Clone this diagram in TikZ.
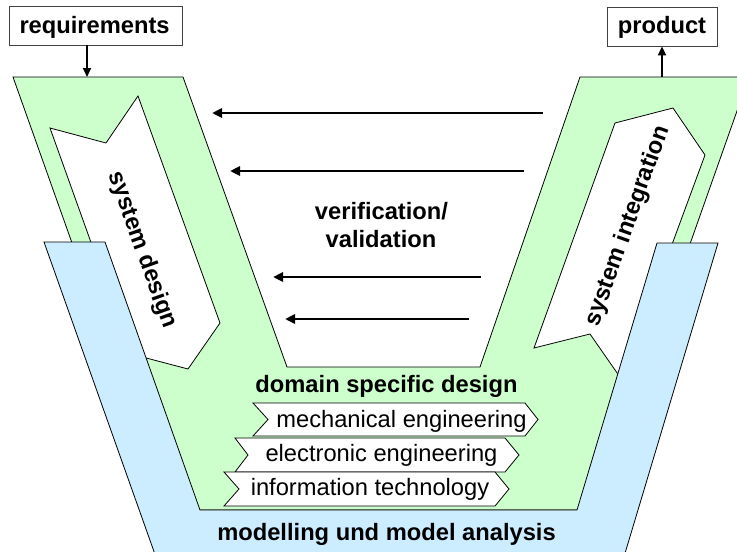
\documentclass[tikz,border=0pt]{standalone}
\usepackage{fontspec}
\setmainfont{Liberation Sans}
\usetikzlibrary{arrows.meta}
\definecolor{vgreen}{HTML}{CCFFCC}
\definecolor{vblue}{HTML}{CCECFF}
\begin{document}
\begin{tikzpicture}[x=1pt,y=-1pt,
  outl/.style={draw=black,line width=0.8pt,line join=miter},
  lbl/.style={font=\fontsize{23.7}{28}\selectfont\bfseries,inner sep=0pt},
  rlbl/.style={font=\fontsize{23.7}{28}\selectfont,inner sep=0pt},
  varrow/.style={line width=2.6pt,-{Triangle[length=10pt,width=9pt]}},
  iobox/.style={draw=black!75,line width=0.9pt,fill=white,inner sep=0pt}
]
\useasboundingbox (0,0) rectangle (737,552);
\begin{scope}
\clip (0,0) rectangle (737,552);
% green V
\path[outl,fill=vgreen] (13,77) -- (183,77) -- (287,367) -- (480,367) -- (580,77) -- (749,77) -- (596,510) -- (167,510) -- cycle;
% white process arrows
\path[outl,fill=white] (50,128) -- (106,143) -- (138,96) -- (220,323) -- (188,369) -- (131,354) -- cycle;
\path[outl,fill=white] (534,348) -- (590,334) -- (622,380) -- (705,155) -- (673,108) -- (615,123) -- cycle;
% blue V
\path[outl,fill=vblue] (44,242) -- (105,242) -- (200,510) -- (577,510) -- (657,243) -- (718,243) -- (623,560) -- (157,560) -- cycle;
\end{scope}
% rotated labels
\node[lbl,rotate=-70.4] (sd) at (142,250) {system design};
\node[lbl,rotate=70.5] (si) at (628,226) {system integration};
% requirements / product
\node[iobox,minimum width=173pt,minimum height=39pt] (req) at (95.5,25.5) {};
\node[lbl,anchor=base] (reqt) at (94.6,33) {requirements};
\node[iobox,minimum width=110pt,minimum height=39pt] (prod) at (662,26.5) {};
\node[lbl,anchor=base] (prodt) at (662,33) {product};
\coordinate (reqin) at (87,77);
\coordinate (prodout) at (662,77);
\draw[line width=2pt,-{Triangle[length=9pt,width=8pt]}] (req.south -| reqin) -- (reqin);
\draw[line width=2pt,-{Triangle[length=9pt,width=8pt]}] (prodout) -- (prod.south);
% verification arrows
\coordinate (v1s) at (543,113); \coordinate (v1e) at (212,113);
\coordinate (v2s) at (524,171); \coordinate (v2e) at (230,171);
\coordinate (v3s) at (481,277); \coordinate (v3e) at (273,277);
\coordinate (v4s) at (469,319); \coordinate (v4e) at (285,319);
\draw[varrow] (v1s) -- (v1e);
\draw[varrow] (v2s) -- (v2e);
\draw[varrow] (v3s) -- (v3e);
\draw[varrow] (v4s) -- (v4e);
\node[lbl,anchor=base] (vv1) at (381.5,219) {verification/};
\node[lbl,anchor=base] (vv2) at (381,247) {validation};
% domain specific design
\node[lbl,anchor=base] (dsd) at (386.5,392) {domain specific design};
\path[outl,fill=white] (253,403) -- (268,419.5) -- (253,436) -- (525,436) -- (538,419.5) -- (525,403) -- cycle;
\path[outl,fill=white] (235,438) -- (248,455) -- (235,472) -- (505,472) -- (519,455) -- (505,438) -- cycle;
\path[outl,fill=white] (224,472) -- (239,489) -- (224,506) -- (495,506) -- (509,489) -- (495,472) -- cycle;
\node[rlbl,anchor=base] (me) at (401.5,427) {mechanical engineering};
\node[rlbl,anchor=base] (ee) at (381.5,461) {electronic engineering};
\node[rlbl,anchor=base] (it) at (370,495) {information technology};
\node[lbl,anchor=base] (mma) at (386.5,540) {modelling und model analysis};
\end{tikzpicture}
\end{document}
